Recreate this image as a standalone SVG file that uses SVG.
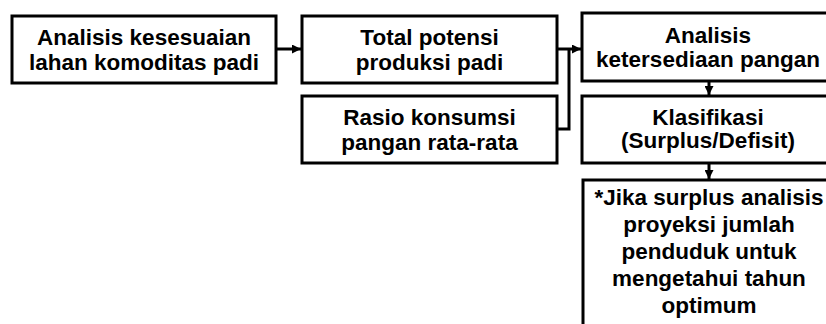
<svg xmlns="http://www.w3.org/2000/svg" width="826" height="324" viewBox="0 0 826 324">
<defs>
<style>
.box{fill:#fff;stroke:#000;stroke-width:3}
.t{font-family:"Liberation Sans",Arial,sans-serif;font-weight:bold;font-size:22.5px;fill:#000;text-anchor:middle}
.c{fill:none;stroke:#000;stroke-width:3}
</style>
<marker id="ah" viewBox="0 0 10 10" refX="10" refY="5" markerWidth="3" markerHeight="3" markerUnits="strokeWidth" orient="auto">
<path d="M0,0 L10,5 L0,10 Z" fill="#000"/>
</marker>
</defs>
<rect width="826" height="324" fill="#fff"/>
<g id="n1">
<rect class="box" x="12" y="16" width="264" height="67"/>
<text class="t" x="144" y="45">Analisis kesesuaian</text>
<text class="t" x="144" y="70">lahan komoditas padi</text>
</g>
<g id="n2">
<rect class="box" x="302" y="16" width="255" height="67"/>
<text class="t" x="429.5" y="45">Total potensi</text>
<text class="t" x="429.5" y="70">produksi padi</text>
</g>
<g id="n3">
<rect class="box" x="302" y="96" width="255" height="67"/>
<text class="t" x="429.5" y="125">Rasio konsumsi</text>
<text class="t" x="429.5" y="150">pangan rata-rata</text>
</g>
<g id="n4">
<rect class="box" x="582" y="13" width="252" height="68"/>
<text class="t" x="708" y="43">Analisis</text>
<text class="t" x="708" y="67">ketersediaan pangan</text>
</g>
<g id="n5">
<rect class="box" x="582" y="96" width="252" height="67"/>
<text class="t" x="708" y="125">Klasifikasi</text>
<text class="t" x="708" y="148">(Surplus/Defisit)</text>
</g>
<g id="n6">
<rect class="box" x="583" y="180" width="252" height="160"/>
<text class="t" x="709" y="205">*Jika surplus analisis</text>
<text class="t" x="709" y="232">proyeksi jumlah</text>
<text class="t" x="709" y="259">penduduk untuk</text>
<text class="t" x="709" y="286">mengetahui tahun</text>
<text class="t" x="709" y="313">optimum</text>
</g>
<g id="connectors">
<path class="c" d="M276,49 H301" marker-end="url(#ah)"/>
<path class="c" d="M557,49 H581" marker-end="url(#ah)"/>
<path class="c" d="M557,129 H569 V49"/>
<path class="c" d="M709,81 V95" marker-end="url(#ah)"/>
<path class="c" d="M709,163 V179" marker-end="url(#ah)"/>
</g>
</svg>
